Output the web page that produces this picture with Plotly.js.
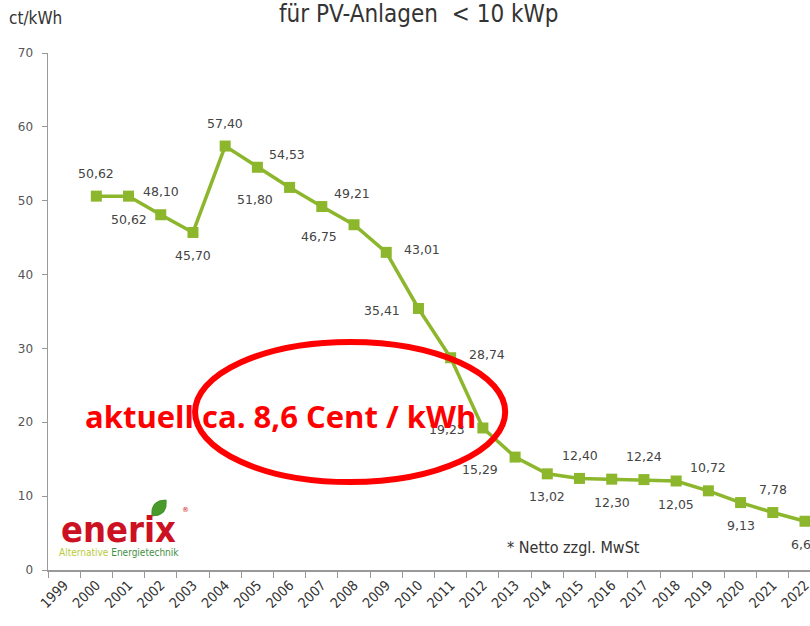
<!DOCTYPE html>
<html>
<head>
<meta charset="utf-8">
<script src="https://cdn.plot.ly/plotly-3.0.1.min.js"></script>
<style>html,body{margin:0;padding:0;background:#fff;}#chart{width:810px;height:626px;}</style>
</head>
<body>
<div id="chart"></div>
<script>
// Jahre (Achsenbeschriftung) und Werte
var years = [1999,2000,2001,2002,2003,2004,2005,2006,2007,2008,2009,2010,2011,2012,2013,2014,2015,2016,2017,2018,2019,2020,2021,2022];
var dataYears = [2000,2001,2002,2003,2004,2005,2006,2007,2008,2009,2010,2011,2012,2013,2014,2015,2016,2017,2018,2019,2020,2021,2022];
var verguetung = [50.62,50.62,48.10,45.70,57.40,54.53,51.80,49.21,46.75,43.01,35.41,28.74,19.23,15.29,13.02,12.40,12.30,12.24,12.05,10.72,9.13,7.78,6.6];
var labelPlacement = ['above','below','above','below','above','aboveRight','belowLeft','aboveRight','belowLeft','right','left','right','left','belowLeft','below','above','below','above','below','above','below','above','below'];
var yTicks = [0,10,20,30,40,50,60,70];

var shifts = {
  above:[0,23], below:[0,-23], aboveRight:[30,13], belowLeft:[-35,-12], right:[36,3], left:[-36,-2]
};
var boundaries = years.map(function(y){return y-0.5;});

var green = '#8cb62b';
var trace = {
  x: dataYears, y: verguetung, type:'scatter', mode:'lines+markers',
  line:{color:green, width:3.5},
  marker:{symbol:'square', size:11, color:green},
  cliponaxis:false, hoverinfo:'skip'
};

var labelFont = {family:'DejaVu Sans, Verdana, sans-serif', size:12.5, color:'#444'};
var annotations = dataYears.map(function(yr,i){
  var s = shifts[labelPlacement[i]];
  return {x:yr, y:verguetung[i], xref:'x', yref:'y', xanchor:'center', yanchor:'middle',
    text:verguetung[i].toFixed(2).replace('.',','),
    showarrow:false, xshift:s[0], yshift:s[1], font:labelFont};
});

var narrow = 'Liberation Sans Narrow, DejaVu Sans Condensed, Arial Narrow, sans-serif';
function paperNote(x,y,text,font){
  return {xref:'paper', yref:'paper', x:x, y:y, xanchor:'center', yanchor:'middle', text:text, showarrow:false, font:font};
}
annotations.push(
  paperNote(0.487, 1.075, 'für PV-Anlagen  &lt; 10 kWp', {family:narrow, size:24, color:'#333'}),
  paperNote(-0.017, 1.068, 'ct/kWh', {family:narrow, size:17, color:'#333'}),
  paperNote(0.689, 0.043, '* Netto zzgl. MwSt', {family:narrow, size:16, color:'#333'}),
  paperNote(0.093, 0.079, '<b>enerix</b>', {family:narrow, size:36, color:'#cc1122'}),
  paperNote(0.181, 0.116, '®', {family:'DejaVu Sans, sans-serif', size:7, color:'#cc1122'}),
  paperNote(0.093, 0.033, '<span style="color:#b8c93a">Alternative </span><span style="color:#3f8f3f">Energietechnik</span>', {family:narrow, size:10, color:'#3f8f3f'}),
  paperNote(0.305, 0.297, '<b>aktuell ca. 8,6 Cent / kWh</b>', {family:'Open Sans, DejaVu Sans, sans-serif', size:31, color:'#ff0000'})
);

var shapes = [
  {type:'circle', xref:'paper', yref:'paper', x0:0.193, x1:0.600, y0:0.170, y1:0.441,
   line:{color:'#ff0000', width:6}},
  {type:'path', xref:'paper', yref:'paper',
   path:'M 0.1365 0.1044 Q 0.1339 0.1354 0.1549 0.1354 Q 0.1575 0.1044 0.1365 0.1044 Z',
   fillcolor:'#4a9a2a', line:{color:'#3f8f2a', width:1}}
];

var layout = {
  width:810, height:626,
  margin:{l:48, r:0, t:53, b:56},
  paper_bgcolor:'#fff', plot_bgcolor:'#fff',
  showlegend:false,
  xaxis:{type:'linear', range:[1998.5,2022.155],
    tickvals:years, ticktext:years.map(String), ticks:'', ticklen:0,
    minor:{tickvals:boundaries, ticks:'outside', ticklen:6, tickcolor:'#999', tickwidth:1, showgrid:false},
    showline:true, linecolor:'#999', linewidth:1.5, showgrid:false, zeroline:false,
    ticklabeloverflow:'allow',
    tickangle:-45, tickfont:{family:narrow, size:14, color:'#333'}, fixedrange:true},
  yaxis:{range:[0,70], tickvals:yTicks, ticks:'outside', ticklen:5, tickcolor:'#999',
    showline:true, linecolor:'#999', linewidth:1.5, showgrid:false, zeroline:false,
    tickfont:{family:'DejaVu Sans, Verdana, sans-serif', size:12, color:'#555'}, ticklabelstandoff:6, fixedrange:true},
  annotations:annotations,
  shapes:shapes
};

Plotly.newPlot('chart', [trace], layout, {displayModeBar:false, staticPlot:true});
</script>
</body>
</html>
